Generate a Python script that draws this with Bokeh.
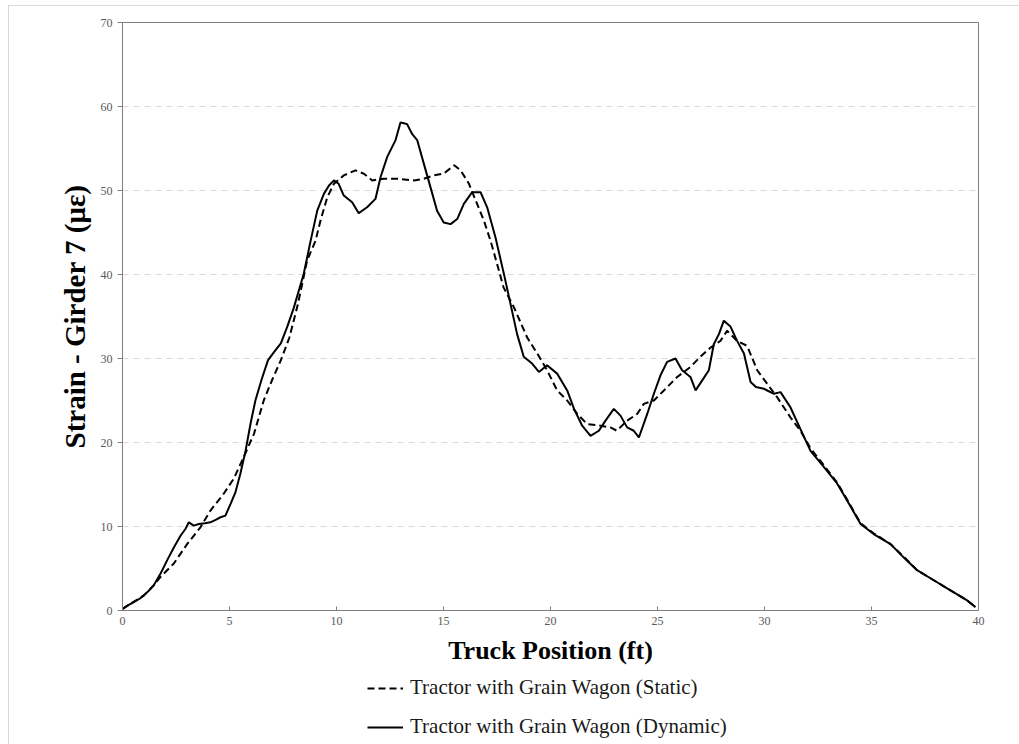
from bokeh.plotting import figure
from bokeh.models import Range1d, Legend, LegendItem, FixedTicker
from bokeh.layouts import column
from bokeh.embed import file_html
from bokeh.resources import INLINE

dyn_x = [0.0, 0.25, 0.53, 0.8, 1.0, 1.25, 1.46, 1.78, 2.09, 2.4, 2.71, 2.94, 3.1, 3.33, 3.57, 3.85, 4.11, 4.35, 4.58, 4.81,
         5.05, 5.28, 5.51, 5.75, 5.98, 6.21, 6.5, 6.8, 7.15, 7.4, 7.7, 8.0, 8.47, 8.79, 9.1, 9.41, 9.65, 9.88, 10.1, 10.34,
         10.73, 11.04, 11.43, 11.82, 12.06, 12.37, 12.76, 12.99, 13.15, 13.3, 13.54, 13.77, 14.08, 14.39, 14.7, 15.01,
         15.33, 15.64, 15.95, 16.34, 16.73, 17.04, 17.43, 17.82, 18.13, 18.44, 18.75, 19.14, 19.46, 19.84, 20.31, 20.78,
         21.1, 21.48, 21.87, 22.26, 22.57, 22.96, 23.27, 23.58, 23.89, 24.13, 24.52, 24.83, 25.14, 25.45, 25.84, 26.15,
         26.54, 26.78, 27.09, 27.4, 27.63, 27.87, 28.1, 28.41, 28.72, 29.04, 29.35, 29.6, 29.97, 30.44, 30.75, 31.21,
         31.68, 32.15, 32.77, 33.4, 33.86, 34.49, 35.1, 35.89, 36.51, 37.13, 37.91, 38.69, 39.47, 39.86]
dyn_y = [0.2, 0.6, 1.0, 1.4, 1.8, 2.4, 3.0, 4.4, 6.0, 7.5, 8.9, 9.7, 10.5, 10.1, 10.3, 10.4, 10.5, 10.8, 11.1, 11.3,
         12.7, 14.1, 16.3, 19.0, 22.2, 25.0, 27.5, 29.8, 31.0, 31.8, 33.8, 36.0, 40.1, 44.0, 47.6, 49.6, 50.6, 51.2, 50.8,
         49.4, 48.6, 47.3, 48.0, 49.0, 51.6, 54.0, 56.0, 58.1, 58.0, 57.9, 56.7, 56.0, 53.2, 50.4, 47.6, 46.2, 46.0, 46.6,
         48.4, 49.8, 49.8, 48.0, 44.4, 40.1, 36.5, 32.9, 30.2, 29.4, 28.4, 29.2, 28.2, 26.2, 24.0, 22.0, 20.8, 21.4, 22.6,
         24.0, 23.2, 21.8, 21.4, 20.6, 23.4, 25.8, 28.0, 29.6, 30.0, 28.6, 27.8, 26.2, 27.4, 28.6, 31.7, 32.9, 34.5, 33.8,
         32.1, 30.6, 27.2, 26.6, 26.4, 25.8, 26.0, 24.2, 21.6, 19.0, 17.1, 15.1, 13.1, 10.3, 9.1, 7.9, 6.3, 4.8, 3.6, 2.4,
         1.2, 0.4]

st_x = [0.0, 0.5, 1.0, 1.46, 1.78, 2.4, 3.02, 3.64, 4.11, 4.73, 5.2, 5.67, 6.14, 6.6, 7.0, 7.4, 7.8, 8.2, 8.63, 9.02,
        9.25, 9.57, 9.88, 10.34, 10.89, 11.28, 11.67, 12.21, 12.84, 13.61, 14.08, 14.55, 15.0, 15.5, 15.8, 16.19, 16.57,
        16.89, 17.2, 17.5, 17.8, 18.29, 18.91, 19.38, 19.84, 20.31, 20.78, 21.25, 21.71, 22.34, 22.8, 23.1, 23.58, 24.05,
        24.36, 24.83, 25.3, 25.92, 26.54, 27.0, 27.48, 27.94, 28.25, 28.72, 29.19, 29.66, 30.12, 30.59, 31.21, 31.68,
        32.15, 32.77, 33.4, 33.86, 34.49, 35.1, 35.89, 36.51, 37.13, 37.91, 38.69, 39.47, 39.86]
st_y = [0.2, 1.0, 1.8, 3.0, 4.0, 5.6, 7.9, 9.9, 11.9, 13.9, 15.7, 18.3, 21.0, 25.0, 27.5, 29.8, 32.5, 36.5, 41.7, 44.0,
        46.4, 49.2, 50.8, 51.8, 52.4, 52.0, 51.2, 51.4, 51.4, 51.2, 51.4, 51.8, 52.0, 53.0, 52.4, 50.8, 48.4, 46.4, 44.0,
        41.3, 38.5, 36.1, 32.5, 30.6, 28.6, 26.2, 25.0, 23.4, 22.2, 22.0, 21.8, 21.4, 22.6, 23.4, 24.6, 25.0, 26.2, 27.8,
        29.0, 30.2, 31.3, 32.1, 33.3, 32.1, 31.5, 28.6, 27.0, 25.4, 23.0, 21.4, 19.3, 17.3, 15.2, 13.2, 10.4, 9.2, 7.9,
        6.4, 4.8, 3.6, 2.4, 1.2, 0.4]

x_ticks = [0, 5, 10, 15, 20, 25, 30, 35, 40]
y_ticks = [0, 10, 20, 30, 40, 50, 60, 70]
x_title = "Truck Position (ft)"
y_title = "Strain - Girder 7 (με)"
label_static = "Tractor with Grain Wagon (Static)"
label_dynamic = "Tractor with Grain Wagon (Dynamic)"

SERIF = "Liberation Serif"
STATIC_DASH = "7 4"

# ---- main chart ----
p = figure(width=1010, height=666, output_backend="svg", toolbar_location=None,
           x_range=Range1d(0, 40), y_range=Range1d(0, 70),
           min_border_left=113, min_border_right=41, min_border_top=16, min_border_bottom=62)
p.background_fill_color = "white"
p.border_fill_color = "white"
p.outline_line_color = "#7f7f7f"
p.outline_line_width = 1

p.line(st_x, st_y, line_color="black", line_width=2, line_dash=STATIC_DASH)
p.line(dyn_x, dyn_y, line_color="black", line_width=2)

p.xgrid.visible = False
p.ygrid.grid_line_color = "#d9d9d9"
p.ygrid.grid_line_dash = "6 5"
p.ygrid.grid_line_width = 1
p.yaxis.ticker = FixedTicker(ticks=y_ticks)
p.xaxis.ticker = FixedTicker(ticks=x_ticks)
p.ygrid.ticker = FixedTicker(ticks=y_ticks)

for ax in (p.xaxis[0], p.yaxis[0]):
    ax.axis_line_color = "#7f7f7f"
    ax.major_tick_line_color = "#7f7f7f"
    ax.minor_tick_line_color = None
    ax.major_label_text_font = SERIF
    ax.major_label_text_font_size = "12px"
    ax.major_label_text_color = "#595959"
    ax.axis_label_text_font = SERIF
    ax.axis_label_text_font_style = "bold"
    ax.axis_label_text_color = "black"

p.xaxis.major_tick_in = 4
p.xaxis.major_tick_out = 0
p.xaxis.major_label_standoff = 6
p.xaxis.axis_label = x_title
p.xaxis.axis_label_text_font_size = "26px"
p.xaxis.axis_label_standoff = 8

p.yaxis.major_tick_in = 0
p.yaxis.major_tick_out = 5
p.yaxis.major_label_standoff = 5
p.yaxis.axis_label = y_title
p.yaxis.axis_label_text_font_size = "29px"
p.yaxis.axis_label_standoff = 7

# ---- legend strip below the chart (its frame aligns with the chart's frame) ----
q = figure(width=1010, height=72, output_backend="svg", toolbar_location=None,
           x_axis_location=None, y_axis_location=None, min_border=0)
q.outline_line_color = None
q.grid.visible = False
q.background_fill_color = "white"
q.border_fill_color = "white"
k_st = q.line(st_x, st_y, line_color="black", line_width=2, line_dash=STATIC_DASH, visible=False)
k_dyn = q.line(dyn_x, dyn_y, line_color="black", line_width=2, visible=False)

legend = Legend(items=[LegendItem(label=label_static, renderers=[k_st]),
                       LegendItem(label=label_dynamic, renderers=[k_dyn])],
                location=(245, 5), orientation="vertical", padding=0, margin=0, spacing=14,
                glyph_width=36, glyph_height=18, label_height=18, label_standoff=7,
                label_text_font=SERIF, label_text_font_size="21px", label_text_color="#1a1a1a",
                background_fill_alpha=0, border_line_alpha=0, click_policy="none")
q.add_layout(legend, "center")

layout = column(p, q, spacing=0)
layout.styles = {"margin-left": "8px", "margin-top": "5px",
                 "border-top": "1px solid #d9d9d9", "border-left": "1px solid #d9d9d9"}

open("out.html", "w").write(file_html(layout, INLINE))
